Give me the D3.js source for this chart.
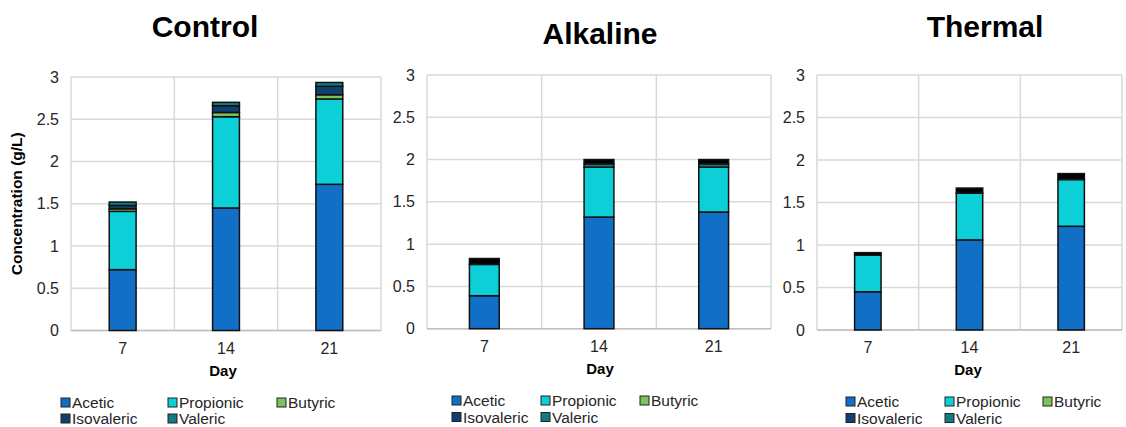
<!DOCTYPE html>
<html>
<head>
<meta charset="utf-8">
<script src="https://cdn.jsdelivr.net/npm/d3@7"></script>
<style>
  body { margin: 0; background: #fff; }
  svg { display: block; font-family: "Liberation Sans", Arial, sans-serif; }
</style>
</head>
<body>
<svg id="chart" width="1126" height="427"></svg>
<script>
// categories
const days = ["7", "14", "21"];
const acids = ["Acetic", "Propionic", "Butyric", "Isovaleric", "Valeric", "Other"];
const legendAcids = ["Acetic", "Propionic", "Butyric", "Isovaleric", "Valeric"];
const yTicks = [0, 0.5, 1, 1.5, 2, 2.5, 3];

// Control (g/L)
const controlAcetic = [0.72, 1.45, 1.73];
const controlPropionic = [0.69, 1.08, 1.01];
const controlButyric = [0.03, 0.05, 0.05];
const controlIsovaleric = [0.04, 0.08, 0.10];
const controlValeric = [0.04, 0.04, 0.045];
const controlOther = [0, 0, 0];

// Alkaline (g/L)
const alkalineAcetic = [0.39, 1.32, 1.38];
const alkalinePropionic = [0.37, 0.59, 0.53];
const alkalineButyric = [0, 0, 0];
const alkalineIsovaleric = [0, 0, 0];
const alkalineValeric = [0, 0.04, 0.04];
const alkalineOther = [0.07, 0.05, 0.05];

// Thermal (g/L)
const thermalAcetic = [0.45, 1.06, 1.22];
const thermalPropionic = [0.43, 0.55, 0.55];
const thermalButyric = [0, 0, 0];
const thermalIsovaleric = [0, 0, 0];
const thermalValeric = [0, 0, 0];
const thermalOther = [0.03, 0.06, 0.07];

const colors = {
  Acetic: "#1170c6",
  Propionic: "#0ccfd8",
  Butyric: "#7cc35b",
  Isovaleric: "#10406f",
  Valeric: "#117b80",
  Other: "#000000"
};

function toRows(series) {
  return days.map((d, i) => {
    const row = {day: d};
    acids.forEach((a, k) => row[a] = series[k][i]);
    return row;
  });
}

const panels = [
  {title: "Control", rows: toRows([controlAcetic, controlPropionic, controlButyric, controlIsovaleric, controlValeric, controlOther]),
   left: 71, right: 381, top: 77, bottom: 330.5, titleX: 205, titleY: 26, dayX: 223, showYTitle: true,
   legendX: [61, 168, 277], legendY: [403, 419]},
  {title: "Alkaline", rows: toRows([alkalineAcetic, alkalinePropionic, alkalineButyric, alkalineIsovaleric, alkalineValeric, alkalineOther]),
   left: 427, right: 771, top: 75, bottom: 328.7, titleX: 600, titleY: 33, dayX: 600, showYTitle: false,
   legendX: [452, 541, 640], legendY: [401, 417.5]},
  {title: "Thermal", rows: toRows([thermalAcetic, thermalPropionic, thermalButyric, thermalIsovaleric, thermalValeric, thermalOther]),
   left: 817, right: 1122, top: 75, bottom: 330, titleX: 985, titleY: 26, dayX: 968, showYTitle: false,
   legendX: [846, 945, 1043], legendY: [402, 418.5]}
];

const svg = d3.select("#chart");
const stack = d3.stack().keys(acids);

panels.forEach(p => {
  const g = svg.append("g");

  const x = d3.scaleBand().domain(days).range([p.left, p.right])
    .paddingInner(0.74).paddingOuter(0.37);
  const y = d3.scaleLinear().domain([0, 3]).range([p.bottom, p.top]);
  const step = x.step();

  // horizontal gridlines
  g.append("g").selectAll("line").data(yTicks)
    .join("line")
    .attr("x1", p.left).attr("x2", p.right)
    .attr("y1", d => y(d)).attr("y2", d => y(d))
    .attr("stroke", "#d9d9d9").attr("stroke-width", 1.5);

  // vertical gridlines at category boundaries
  g.append("g").selectAll("line").data(d3.range(days.length + 1))
    .join("line")
    .attr("x1", i => p.left + i * step).attr("x2", i => p.left + i * step)
    .attr("y1", p.top).attr("y2", p.bottom)
    .attr("stroke", "#d9d9d9").attr("stroke-width", 1.5);

  // bottom axis line
  g.append("line")
    .attr("x1", p.left).attr("x2", p.right)
    .attr("y1", p.bottom).attr("y2", p.bottom)
    .attr("stroke", "#bfbfbf").attr("stroke-width", 1.5);

  // y axis labels
  const ya = g.append("g").attr("transform", `translate(${p.left - 12},0)`)
    .call(d3.axisLeft(y).tickValues(yTicks).tickSize(0).tickPadding(0).tickFormat(d3.format("")));
  ya.select(".domain").remove();
  ya.selectAll("text").attr("font-size", 16).attr("fill", "#262626")
    .attr("font-family", "Liberation Sans, Arial, sans-serif");

  // x axis labels
  const xa = g.append("g").attr("transform", `translate(0,${p.bottom + 12})`)
    .call(d3.axisBottom(x).tickSize(0).tickPadding(0));
  xa.select(".domain").remove();
  xa.selectAll("text").attr("font-size", 16).attr("fill", "#262626")
    .attr("font-family", "Liberation Sans, Arial, sans-serif");

  // stacked bars
  const series = stack(p.rows);
  g.append("g").selectAll("g").data(series)
    .join("g")
    .attr("fill", s => colors[s.key])
    .selectAll("rect").data(s => s.filter(v => v[1] - v[0] > 0))
    .join("rect")
    .attr("x", v => x(v.data.day))
    .attr("width", x.bandwidth())
    .attr("y", v => y(v[1]))
    .attr("height", v => y(v[0]) - y(v[1]))
    .attr("stroke", "#111").attr("stroke-width", 1.5);

  // title
  g.append("text")
    .attr("x", p.titleX)
    .attr("y", p.titleY)
    .attr("dy", "0.35em")
    .attr("text-anchor", "middle")
    .attr("font-size", 30).attr("font-weight", "bold").attr("fill", "#000")
    .text(p.title);

  // x title
  g.append("text")
    .attr("x", p.dayX)
    .attr("y", p.bottom + 45)
    .attr("text-anchor", "middle")
    .attr("font-size", 15).attr("font-weight", "bold").attr("fill", "#000")
    .text("Day");

  if (p.showYTitle) {
    g.append("text")
      .attr("transform", `translate(22,${(p.top + p.bottom) / 2}) rotate(-90)`)
      .attr("text-anchor", "middle")
      .attr("font-size", 15.5).attr("font-weight", "bold").attr("fill", "#000")
      .text("Concentration (g/L)");
  }

  // legend
  const lg = g.append("g").selectAll("g").data(legendAcids)
    .join("g")
    .attr("transform", (a, i) => `translate(${p.legendX[i % 3]},${p.legendY[Math.floor(i / 3)]})`);
  lg.append("rect")
    .attr("x", 0).attr("y", -5).attr("width", 9).attr("height", 9)
    .attr("fill", a => colors[a]).attr("stroke", "#222").attr("stroke-width", 1);
  lg.append("text")
    .attr("x", 11).attr("y", 0).attr("dy", "0.35em")
    .attr("font-size", 15.5).attr("fill", "#262626")
    .text(a => a);
});
</script>
</body>
</html>
